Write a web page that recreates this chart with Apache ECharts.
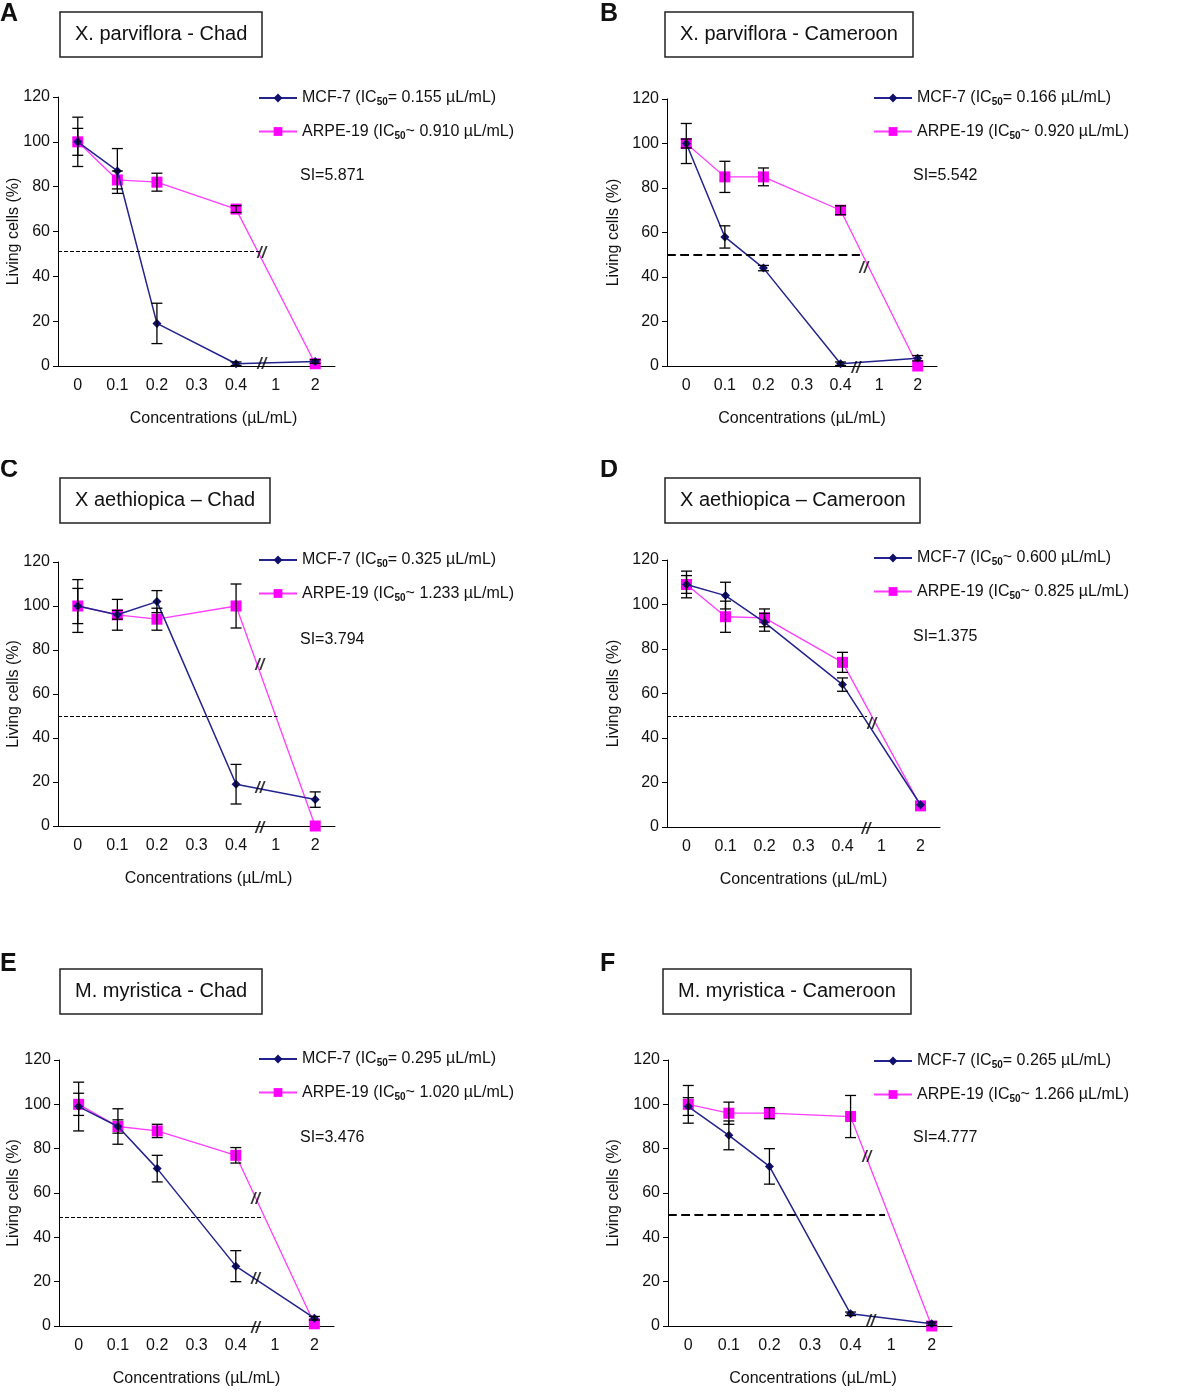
<!DOCTYPE html>
<html>
<head>
<meta charset="utf-8">
<style type="text/css">
body{margin:0;background:#fff;}
#page{position:relative;width:1200px;height:1392px;}
.charts{position:absolute;width:600px;}
</style>
</head>
<body>
<div id="page">
	<div class="charts" id="chartA" style="left:0;top:0;height:460px"></div>
	<div class="charts" id="chartB" style="left:600px;top:0;height:460px"></div>
	<div class="charts" id="chartC" style="left:0;top:460px;height:490px"></div>
	<div class="charts" id="chartD" style="left:600px;top:460px;height:490px"></div>
	<div class="charts" id="chartE" style="left:0;top:950px;height:442px"></div>
	<div class="charts" id="chartF" style="left:600px;top:950px;height:442px"></div>
</div>
<script src="https://cdn.jsdelivr.net/npm/echarts@6/dist/echarts.min.js"></script>
<script type="text/javascript">
// x axis slots; 0.3 and 1 are spacer slots with no measurement
var concLabels = ['0', '0.1', '0.2', '0.3', '0.4', '1', '2'];
var measuredAt = [0, 1, 2, 4, 6];

// A - X. parviflora, Chad
var mcfA = [100, 87, 19, 1, 2];
var mcfErrA = [11, 10, 9, 0.8, 0.8];
var arpeA = [100, 83, 82, 70, 1];
var arpeErrA = [6, 4, 4, 1.5, 0];
// B - X. parviflora, Cameroon
var mcfB = [100, 58, 44, 1, 3.5];
var mcfErrB = [9, 5, 1.2, 0.8, 1.2];
var arpeB = [100, 85, 85, 70, 0];
var arpeErrB = [2, 7, 4, 2, 0];
// C - X aethiopica, Chad
var mcfC = [100, 96, 102, 19, 12];
var mcfErrC = [12, 7, 5, 9, 3.5];
var arpeC = [100, 96, 94, 100, 0];
var arpeErrC = [8, 2, 5, 10, 0];
// D - X aethiopica, Cameroon
var mcfD = [109, 104, 92, 64, 10];
var mcfErrD = [6, 6, 4, 3, 0];
var arpeD = [109, 94.5, 94, 74, 9.5];
var arpeErrD = [4, 7, 4, 4.5, 0];
// E - M. myristica, Chad
var mcfE = [99, 90, 71, 27, 3.5];
var mcfErrE = [11, 8, 6, 7, 0.8];
var arpeE = [100, 90, 88, 77, 1];
var arpeErrE = [5, 3, 3, 3.5, 0];
// F - M. myristica, Cameroon
var mcfF = [99, 86, 72, 5.5, 1];
var mcfErrF = [4, 6.5, 8, 0.8, 0.8];
var arpeF = [100, 96, 96, 94.5, 0];
var arpeErrF = [8.5, 5, 2.5, 9.5, 0];

// IC50 line (y, where it stops on the slot scale) and "//" break marks
var cutA = [51, 4.6],  breaksA = [[4.65, 50], [4.65, 0.5]];
var cutB = [50, 4.5],  breaksB = [[4.6, 44], [4.4, -1]];
var cutC = [50, 5.05], breaksC = [[4.6, 73], [4.6, 17], [4.6, -1]];
var cutD = [50, 4.63], breaksD = [[4.75, 46], [4.6, -1]];
var cutE = [49, 4.7],  breaksE = [[4.5, 57], [4.5, 21], [4.5, -1]];
var cutF = [50, 4.85], breaksF = [[4.4, 76], [4.5, 2]];

var FONT = '"Liberation Sans", Arial, sans-serif';
var NAVY = '#23238e';
var PINK = '#ff3cff';

var panels = [
	{id:'chartA', letter:'A', title:'X. parviflora - Chad', mcfName:'MCF-7 (IC50= 0.155 µL/mL)', arpeName:'ARPE-19 (IC50~ 0.910 µL/mL)', si:'SI=5.871',
	 mcf:mcfA, mcfErr:mcfErrA, arpe:arpeA, arpeErr:arpeErrA, cut:cutA, breaks:breaksA, boldCut:false,
	 grid:{left:58, top:97, width:277, height:269}, box:[60, 12], letterTop:2, legend:[258, 90], siPos:[300, 168], yGap:36, xShift:34},
	{id:'chartB', letter:'B', title:'X. parviflora - Cameroon', mcfName:'MCF-7 (IC50= 0.166 µL/mL)', arpeName:'ARPE-19 (IC50~ 0.920 µL/mL)', si:'SI=5.542',
	 mcf:mcfB, mcfErr:mcfErrB, arpe:arpeB, arpeErr:arpeErrB, cut:cutB, breaks:breaksB, boldCut:true,
	 grid:{left:67, top:99, width:270, height:267}, box:[65, 12], letterTop:2, legend:[273, 90], siPos:[313, 168], yGap:45, xShift:0},
	{id:'chartC', letter:'C', title:'X aethiopica \u2013 Chad', mcfName:'MCF-7 (IC50= 0.325 µL/mL)', arpeName:'ARPE-19 (IC50~ 1.233 µL/mL)', si:'SI=3.794',
	 mcf:mcfC, mcfErr:mcfErrC, arpe:arpeC, arpeErr:arpeErrC, cut:cutC, breaks:breaksC, boldCut:false,
	 grid:{left:58, top:102, width:277, height:264}, box:[60, 18], letterTop:-2, legend:[258, 92], siPos:[300, 172], yGap:36, xShift:24},
	{id:'chartD', letter:'D', title:'X aethiopica \u2013 Cameroon', mcfName:'MCF-7 (IC50~ 0.600 µL/mL)', arpeName:'ARPE-19 (IC50~ 0.825 µL/mL)', si:'SI=1.375',
	 mcf:mcfD, mcfErr:mcfErrD, arpe:arpeD, arpeErr:arpeErrD, cut:cutD, breaks:breaksD, boldCut:false,
	 grid:{left:67, top:100, width:273, height:267}, box:[65, 18], letterTop:-2, legend:[273, 90], siPos:[313, 169], yGap:45, xShift:0},
	{id:'chartE', letter:'E', title:'M. myristica - Chad', mcfName:'MCF-7 (IC50= 0.295 µL/mL)', arpeName:'ARPE-19 (IC50~ 1.020 µL/mL)', si:'SI=3.476',
	 mcf:mcfE, mcfErr:mcfErrE, arpe:arpeE, arpeErr:arpeErrE, cut:cutE, breaks:breaksE, boldCut:false,
	 grid:{left:59, top:110, width:275, height:269}, box:[60, 19], letterTop:2, legend:[258, 101], siPos:[300, 180], yGap:37, xShift:0},
	{id:'chartF', letter:'F', title:'M. myristica - Cameroon', mcfName:'MCF-7 (IC50= 0.265 µL/mL)', arpeName:'ARPE-19 (IC50~ 1.266 µL/mL)', si:'SI=4.777',
	 mcf:mcfF, mcfErr:mcfErrF, arpe:arpeF, arpeErr:arpeErrF, cut:cutF, breaks:breaksF, boldCut:true,
	 grid:{left:68, top:110, width:284, height:269}, box:[63, 19], letterTop:2, legend:[273, 103], siPos:[313, 180], yGap:46, xShift:6}
];

function pairs(vals){
	return measuredAt.map(function(x, i){ return [x, vals[i]]; });
}
function errPairs(vals, errs){
	var out = [];
	measuredAt.forEach(function(x, i){
		if (errs[i] > 0) out.push([x, vals[i] - errs[i], vals[i] + errs[i]]);
	});
	return out;
}
function errorBars(params, api){
	var x = api.value(0);
	var lo = api.coord([x, api.value(1)]);
	var hi = api.coord([x, api.value(2)]);
	var w = 5.5;
	var st = {stroke:'#000', lineWidth:1.3};
	return {type:'group', children:[
		{type:'line', shape:{x1:lo[0], y1:lo[1], x2:hi[0], y2:hi[1]}, style:st},
		{type:'line', shape:{x1:lo[0]-w, y1:lo[1], x2:lo[0]+w, y2:lo[1]}, style:st},
		{type:'line', shape:{x1:hi[0]-w, y1:hi[1], x2:hi[0]+w, y2:hi[1]}, style:st}
	]};
}

function drawPanel(p){
	var chart = echarts.init(document.getElementById(p.id));
	var option = {
		animation: false,
		textStyle: {fontFamily: FONT, color: '#111'},
		title: [
			{text: p.letter, left: 0, top: p.letterTop, padding: 0,
			 textStyle: {fontSize: 25, fontWeight: 'bold', color: '#111', fontFamily: FONT}},
			{text: p.title, left: p.box[0], top: p.box[1], padding: [12, 15, 13, 15],
			 borderColor: '#222', borderWidth: 1.5,
			 textStyle: {fontSize: 20, fontWeight: 'normal', color: '#111', fontFamily: FONT}},
			{text: p.si, left: p.siPos[0], top: p.siPos[1], padding: 0,
			 textStyle: {fontSize: 16, fontWeight: 'normal', color: '#111', fontFamily: FONT}}
		],
		legend: {
			orient: 'vertical', left: p.legend[0], top: p.legend[1], padding: 0,
			itemWidth: 38, itemHeight: 11, itemGap: 16, selectedMode: false,
			data: [p.mcfName, p.arpeName],
			formatter: function(name){ return name.replace('IC50', 'IC{sub|50}'); },
			textStyle: {fontSize: 16, color: '#111', fontFamily: FONT,
				rich: {sub: {fontSize: 10, fontWeight: 'bold', color: '#111', fontFamily: FONT, padding: [9, 0, 0, 0]}}}
		},
		grid: p.grid,
		xAxis: [
			{type: 'category', data: concLabels, boundaryGap: true, position: 'bottom',
			 name: 'Concentrations (µL/mL)', nameLocation: 'middle', nameGap: 45, nameMoveOverlap: false,
			 nameTextStyle: {fontSize: 16, color: '#111', padding: [0, 0, 0, p.xShift]},
			 axisLine: {onZero: false, lineStyle: {color: '#000', width: 1}},
			 axisTick: {interval: 0, length: 5, lineStyle: {color: '#000'}},
			 axisLabel: {interval: 0, fontSize: 16, color: '#111', margin: 12},
			 splitLine: {show: false}},
			{type: 'value', min: -0.5, max: 6.5, show: false, position: 'top', splitLine: {show: false}}
		],
		yAxis: {
			type: 'value', min: 0, max: 120, interval: 20,
			name: 'Living cells (%)', nameLocation: 'middle', nameGap: p.yGap, nameMoveOverlap: false,
			nameTextStyle: {fontSize: 16, color: '#111'},
			axisLine: {show: true, onZero: false, lineStyle: {color: '#000', width: 1}},
			axisTick: {show: true, length: 5, lineStyle: {color: '#000'}},
			axisLabel: {fontSize: 16, color: '#111', margin: 8},
			splitLine: {show: false}
		},
		series: [
			{name: p.arpeName, type: 'line', xAxisIndex: 1, data: pairs(p.arpe),
			 symbol: 'rect', symbolSize: 11,
			 lineStyle: {color: PINK, width: 1.3}, itemStyle: {color: '#ff00ff'}, z: 3},
			{name: p.mcfName, type: 'line', xAxisIndex: 1, data: pairs(p.mcf),
			 symbol: 'diamond', symbolSize: 9,
			 lineStyle: {color: NAVY, width: 1.5}, itemStyle: {color: '#10106e'}, z: 4,
			 markLine: {silent: true, symbol: ['none', 'none'], label: {show: false},
				lineStyle: {color: '#000', type: 'dashed', width: p.boldCut ? 2.2 : 1},
				data: [[{coord: [-0.5, p.cut[0]]}, {coord: [p.cut[1], p.cut[0]]}]]}},
			{type: 'custom', xAxisIndex: 1, renderItem: errorBars, data: errPairs(p.mcf, p.mcfErr), z: 5, silent: true},
			{type: 'custom', xAxisIndex: 1, renderItem: errorBars, data: errPairs(p.arpe, p.arpeErr), z: 5, silent: true},
			{type: 'scatter', xAxisIndex: 1, data: p.breaks, symbolSize: 2, clip: false, silent: true,
			 itemStyle: {color: 'rgba(0,0,0,0)'}, z: 6,
			 label: {show: true, position: 'inside', formatter: '//', fontSize: 16, fontWeight: 'bold', fontStyle: 'italic', color: '#000'}}
		]
	};
	chart.setOption(option);
}

panels.forEach(drawPanel);
</script>
</body>
</html>
